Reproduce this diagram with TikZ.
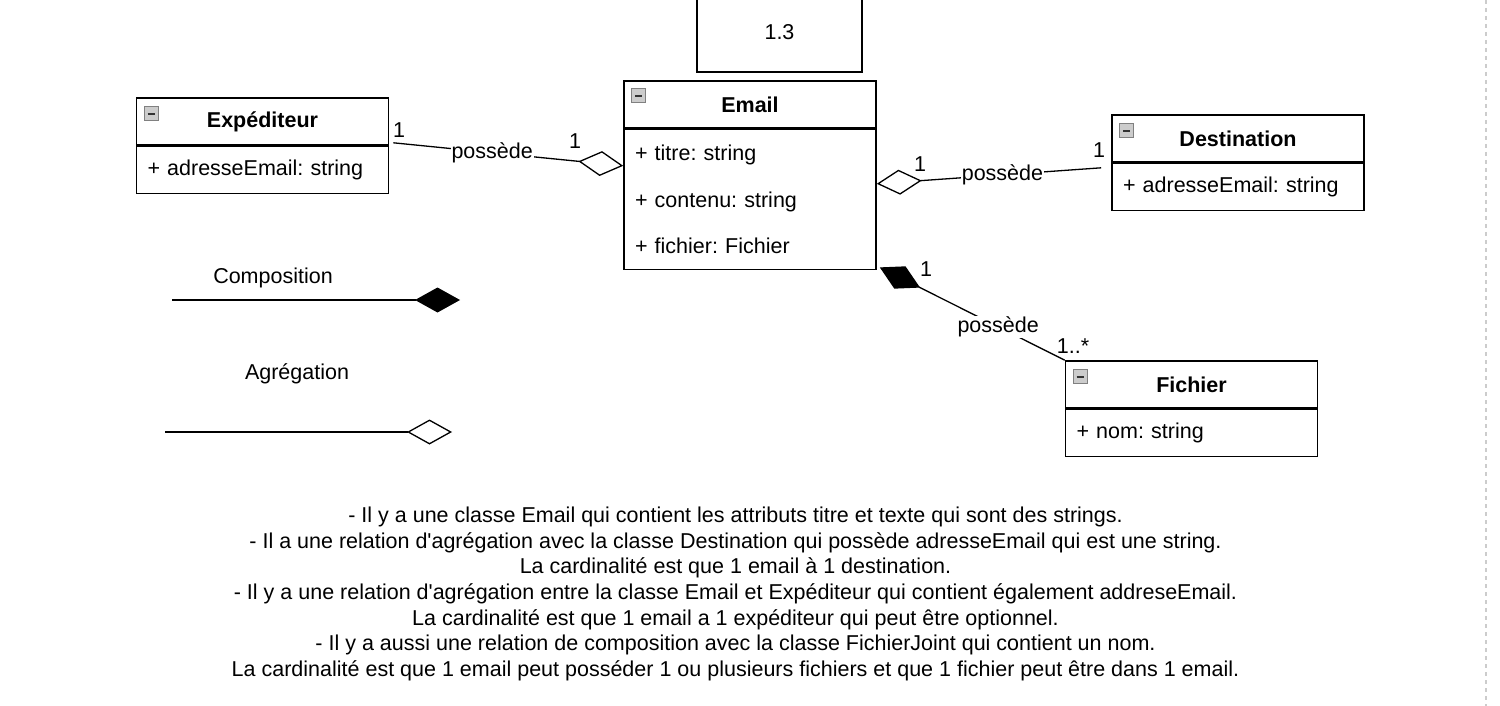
\documentclass[tikz,border=0pt]{standalone}
\usepackage{fontspec}
\setmainfont{Liberation Sans}
\usetikzlibrary{positioning,arrows.meta}
\frenchspacing

\begin{document}
\begin{tikzpicture}[
    x=1pt, y=-1pt,
    every node/.style={font=\fontsize{21.5}{25.7}\selectfont},
    classhead/.style={draw, line width=1.6pt, minimum width=252, minimum height=47, inner sep=0pt, font=\fontsize{21.5}{25.7}\selectfont\bfseries},
    classbody/.style={draw, line width=1.6pt, text width=230, inner xsep=11, inner ysep=0pt, align=left, minimum height=47},
    icon/.style={draw=gray, fill=gray!40, minimum size=14, inner sep=0pt, anchor=north west, line width=0.8pt,
        path picture={\draw[line width=2pt, black!80] ([xshift=3.5pt]path picture bounding box.west) -- ([xshift=-3.5pt]path picture bounding box.east);}},
    lbl/.style={fill=white, inner sep=1pt},
    mult/.style={inner sep=0pt},
    assoc/.style={line width=1.3pt},
    aggreg/.style={assoc, -{Diamond[open, length=45pt, width=25pt]}},
    compo/.style={assoc, -{Diamond[length=45pt, width=25pt]}}
]
\useasboundingbox (0,0) rectangle (1500,706);

% version box
\node[draw, line width=1.6pt, minimum width=165, minimum height=80] (ver) at (779.5,32) {1.3};

% classes
\node[classhead] (ehead) at (750,104.5) {Email};
\node[classbody, minimum height=140, font=\fontsize{21.5}{46.5}\selectfont, below=0pt of ehead] (ebody) {+ titre: string\\ + contenu: string\\ + fichier: Fichier};
\node[icon] (eicon) at ([xshift=8pt,yshift=-8pt]ehead.north west) {};

\node[classhead] (xhead) at (262.5,121.5) {Expéditeur};
\node[classbody, below=0pt of xhead] (xbody) {+ adresseEmail: string};
\node[icon] (xicon) at ([xshift=8pt,yshift=-9pt]xhead.north west) {};

\node[classhead] (dhead) at (1238,138.5) {Destination};
\node[classbody, below=0pt of dhead] (dbody) {+ adresseEmail: string};
\node[icon] (dicon) at ([xshift=8pt,yshift=-9pt]dhead.north west) {};

\node[classhead] (fhead) at (1191.5,384.5) {Fichier};
\node[classbody, below=0pt of fhead] (fbody) {+ nom: string};
\node[icon] (ficon) at ([xshift=8pt,yshift=-9pt]fhead.north west) {};

% relations
\draw[aggreg] ([xshift=4pt,yshift=3pt]xhead.south east) -- node[lbl, pos=0.43] (lx) {possède} ([yshift=-37pt]ebody.north west);
\draw[aggreg] ([xshift=-10pt,yshift=-5pt]dhead.south west) -- node[lbl, pos=0.44] (ld) {possède} ([yshift=-55pt]ebody.north east);
\draw[compo] (fhead.north west) -- node[lbl, pos=0.36] (lf) {possède} ([xshift=3pt,yshift=3pt]ebody.south east);

\node[mult] (mx1) at (399,130) {1};
\node[mult] (mx2) at (575,141) {1};
\node[mult] (md1) at (920,164) {1};
\node[mult] (md2) at (1099,150) {1};
\node[mult] (mf1) at (926,269) {1};
\node[mult] (mf2) at (1073,346) {1..*};

% legend
\node (tcomp) at (273,278) {Composition};
\coordinate (c1) at (172,300);
\coordinate (c2) at (460,300);
\draw[compo] (c1) -- (c2);
\node (tagr) at (297,374) {Agrégation};
\coordinate (a1) at (165,432);
\coordinate (a2) at (452,432);
\draw[aggreg] (a1) -- (a2);

% page edge
\coordinate (s1) at (1486,0);
\coordinate (s2) at (1486,706);
\draw[gray!40, line width=1.5pt, dash pattern=on 4pt off 4pt] (s1) -- (s2);

% notes
\node[align=center] (notes) at (735.5,594) {- Il y a une classe Email qui contient les attributs titre et texte qui sont des strings.\\
- Il a une relation d\textquotesingle agrégation avec la classe Destination qui possède adresseEmail qui est une string.\\
La cardinalité est que 1 email à 1 destination.\\
- Il y a une relation d\textquotesingle agrégation entre la classe Email et Expéditeur qui contient également addreseEmail.\\
La cardinalité est que 1 email a 1 expéditeur qui peut être optionnel.\\
- Il y a aussi une relation de composition avec la classe FichierJoint qui contient un nom.\\
La cardinalité est que 1 email peut posséder 1 ou plusieurs fichiers et que 1 fichier peut être dans 1 email.};
\end{tikzpicture}
\end{document}
